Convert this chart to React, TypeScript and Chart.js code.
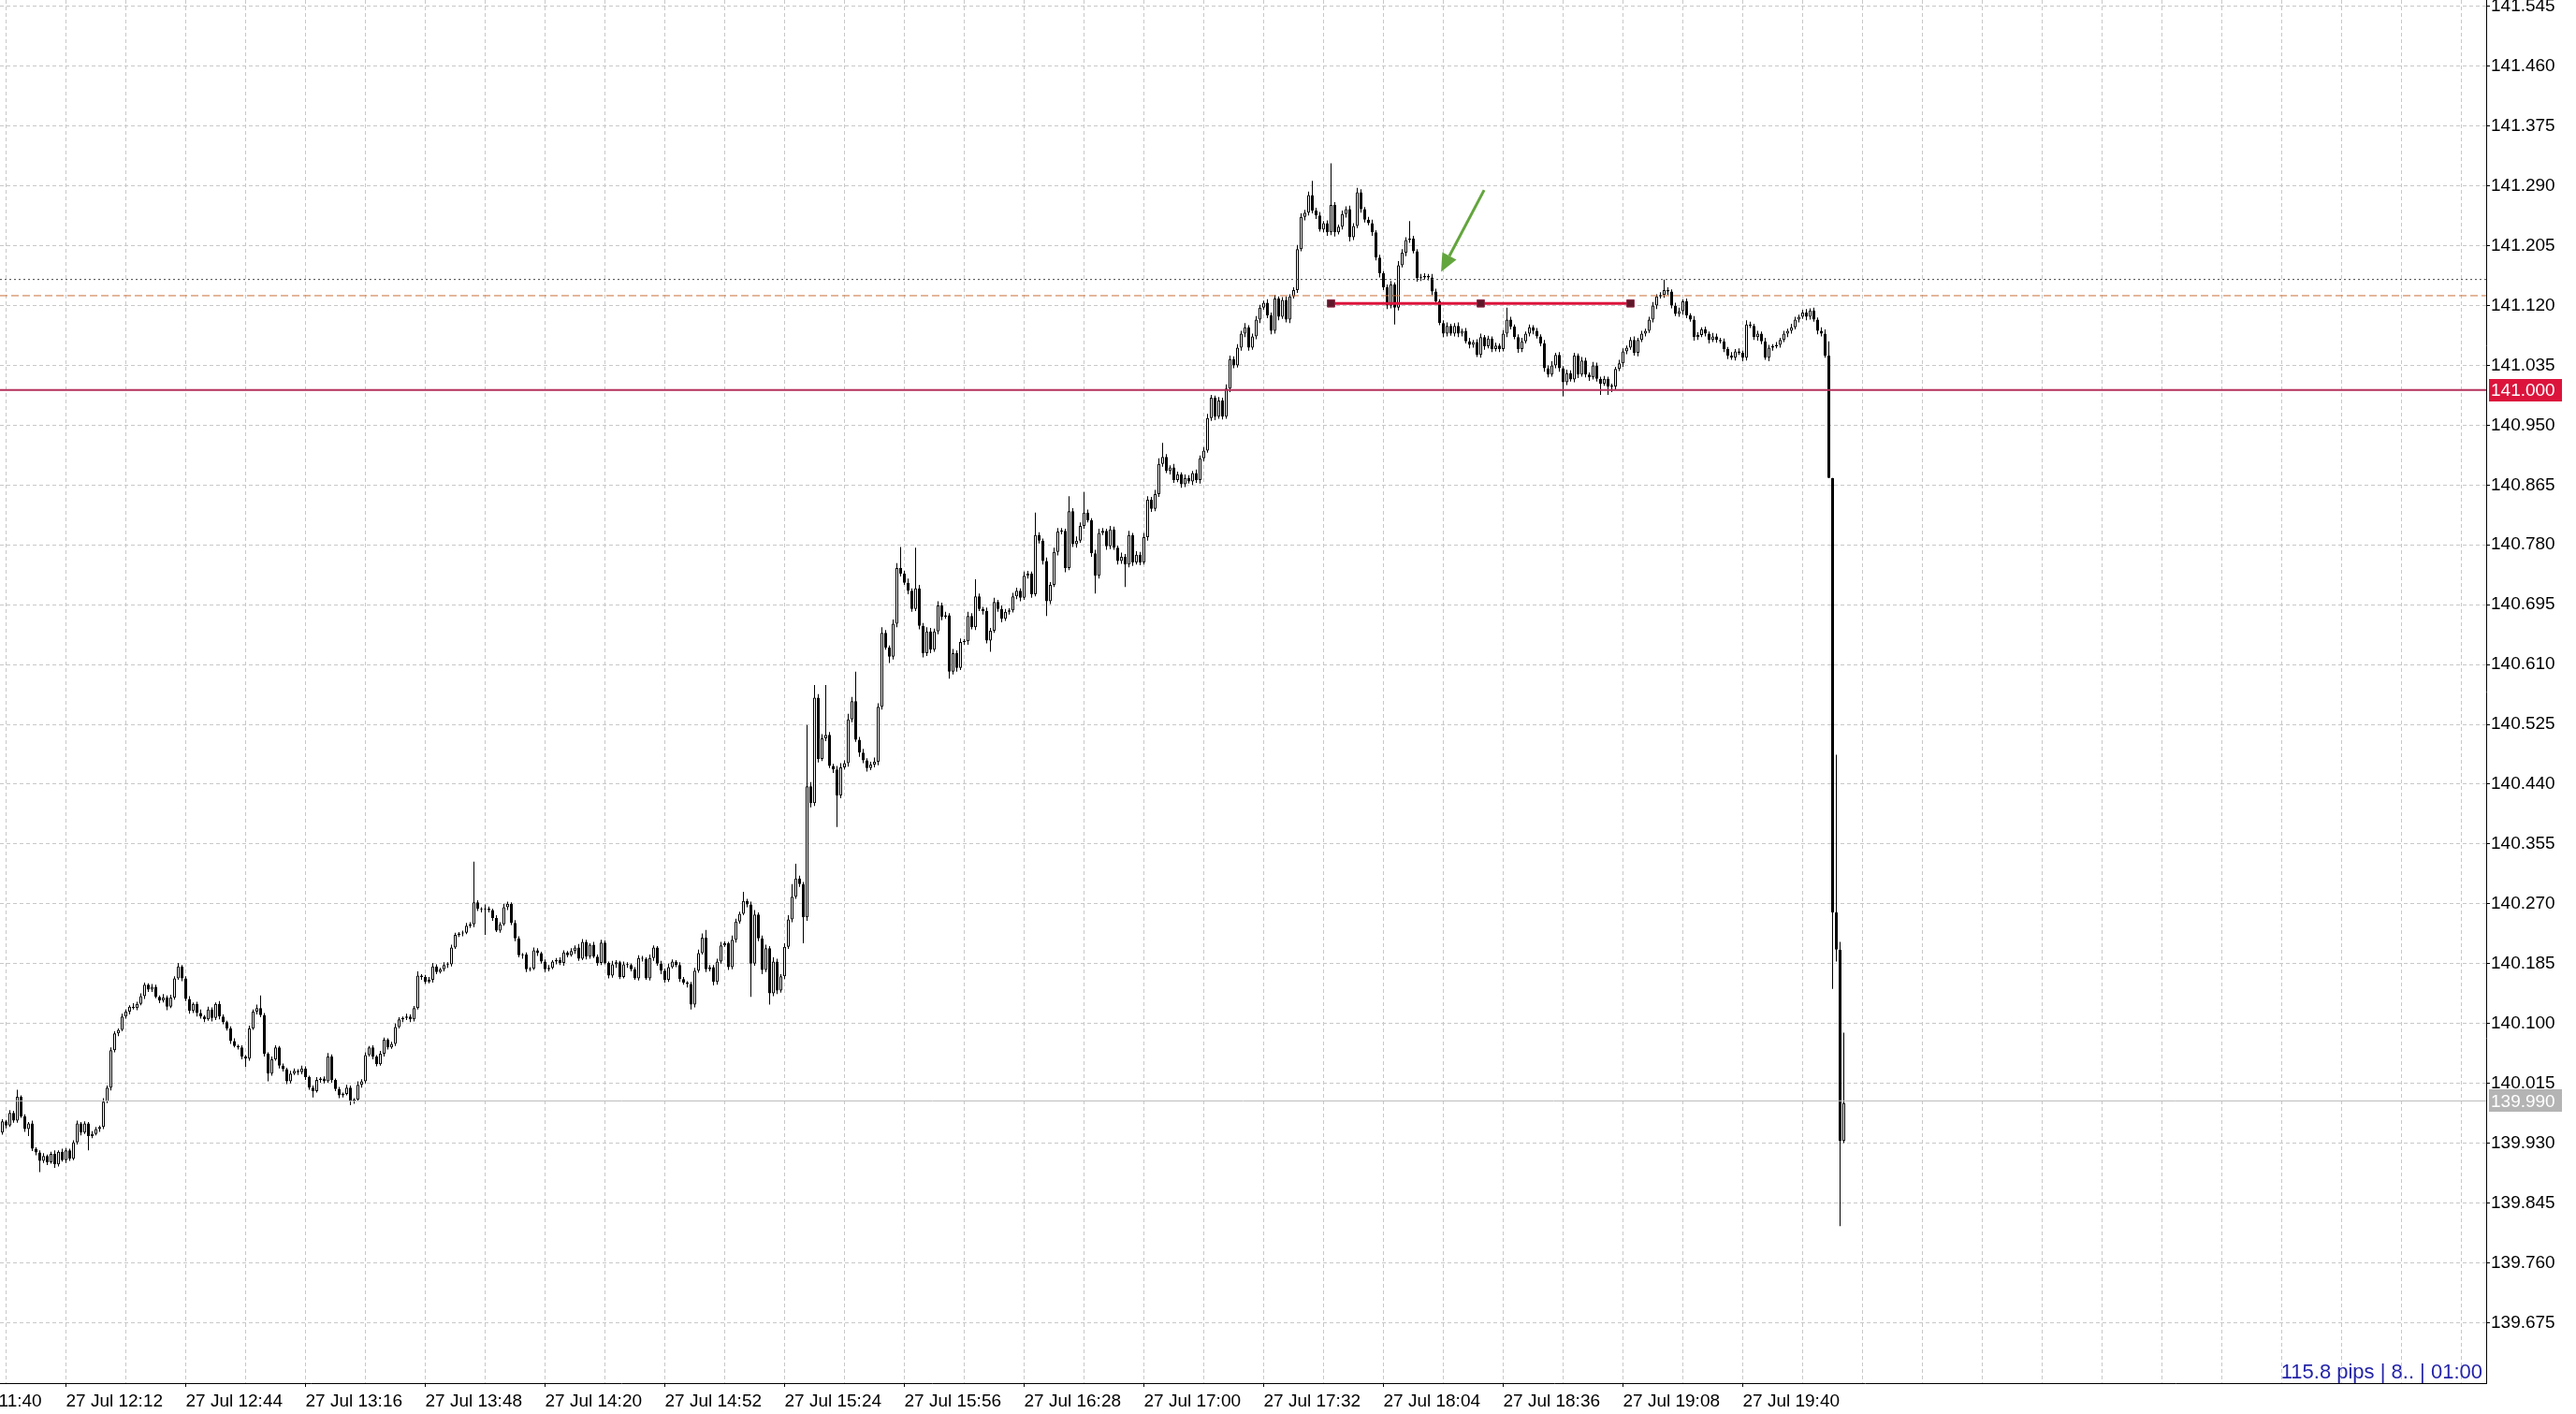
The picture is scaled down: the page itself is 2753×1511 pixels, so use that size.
import React, { useEffect, useRef } from 'react';
import { Chart, registerables } from 'chart.js';

Chart.register(...registerables);

const W = 2753;
const H = 1511;

// Prices are stored as points (thousandths) above PRICE_BASE
const PRICE_BASE = 139;
// minute (after 27 Jul 11:40) of the first visible 1-minute bar
const FIRST_MINUTE = 15;
const FIRST_OPEN_PTS = 945;

// close of every 1-minute bar, t = 15 ... 507
const closePts = [
  961, 955, 973, 962, 996, 968, 950, 958, 922, 917, // t15
  905, 912, 903, 915, 900, 918, 906, 920, 908, 931, // t25
  958, 945, 958, 940, 943, 950, 953, 989, 1009, 1062, // t35
  1086, 1091, 1110, 1117, 1124, 1122, 1128, 1139, 1155, 1148, // t45
  1152, 1138, 1133, 1137, 1124, 1137, 1164, 1181, 1164, 1135, // t55
  1118, 1128, 1115, 1110, 1106, 1120, 1108, 1128, 1110, 1102, // t65
  1093, 1075, 1068, 1066, 1053, 1050, 1093, 1117, 1122, 1112, // t75
  1057, 1029, 1049, 1066, 1040, 1035, 1018, 1029, 1033, 1031, // t85
  1036, 1024, 1009, 1004, 1020, 1022, 1018, 1053, 1020, 1007, // t95
  998, 1000, 1009, 989, 992, 1013, 1018, 1055, 1066, 1053, // t105
  1042, 1057, 1077, 1066, 1071, 1095, 1106, 1108, 1110, 1106, // t115
  1122, 1168, 1166, 1159, 1162, 1181, 1173, 1177, 1183, 1184, // t125
  1208, 1226, 1228, 1229, 1239, 1241, 1272, 1263, 1262, 1263, // t135
  1261, 1250, 1232, 1241, 1265, 1270, 1243, 1221, 1197, 1198, // t145
  1177, 1178, 1204, 1200, 1188, 1177, 1179, 1188, 1190, 1186, // t155
  1201, 1197, 1203, 1208, 1192, 1216, 1195, 1212, 1195, 1186, // t165
  1215, 1186, 1168, 1184, 1187, 1166, 1184, 1183, 1177, 1164, // t175
  1193, 1192, 1164, 1193, 1208, 1185, 1175, 1162, 1180, 1188, // t185
  1183, 1163, 1158, 1156, 1127, 1175, 1200, 1222, 1177, 1180, // t195
  1159, 1188, 1211, 1214, 1180, 1219, 1245, 1256, 1274, 1269, // t205
  1185, 1255, 1221, 1176, 1207, 1143, 1188, 1147, 1167, 1209, // t215
  1248, 1280, 1306, 1298, 1251, 1437, 1413, 1563, 1476, 1505, // t225
  1510, 1466, 1461, 1424, 1464, 1470, 1532, 1558, 1503, 1485, // t235
  1474, 1463, 1468, 1472, 1550, 1655, 1634, 1621, 1668, 1747, // t245
  1739, 1726, 1715, 1689, 1718, 1665, 1626, 1657, 1631, 1657, // t255
  1694, 1678, 1680, 1600, 1626, 1605, 1642, 1643, 1679, 1663, // t265
  1707, 1689, 1686, 1644, 1658, 1699, 1689, 1675, 1685, 1687, // t275
  1707, 1715, 1705, 1736, 1739, 1710, 1794, 1786, 1757, 1700, // t285
  1723, 1770, 1799, 1800, 1747, 1828, 1781, 1786, 1807, 1826, // t295
  1815, 1768, 1736, 1797, 1800, 1778, 1802, 1776, 1757, 1763, // t305
  1752, 1794, 1755, 1766, 1755, 1791, 1844, 1831, 1852, 1895, // t315
  1905, 1885, 1890, 1872, 1880, 1866, 1875, 1870, 1882, 1872, // t325
  1903, 1914, 1960, 1989, 1962, 1985, 1962, 2002, 2044, 2035, // t335
  2060, 2080, 2089, 2060, 2076, 2100, 2117, 2124, 2106, 2084, // t345
  2130, 2104, 2128, 2100, 2133, 2142, 2200, 2246, 2252, 2277, // t355
  2255, 2248, 2228, 2237, 2224, 2263, 2224, 2232, 2250, 2257, // t365
  2217, 2233, 2281, 2257, 2242, 2237, 2224, 2188, 2166, 2146, // t375
  2120, 2150, 2117, 2177, 2195, 2213, 2215, 2197, 2159, 2160, // t385
  2162, 2160, 2140, 2126, 2095, 2080, 2091, 2080, 2091, 2080, // t395
  2084, 2069, 2064, 2068, 2050, 2075, 2062, 2073, 2058, 2063, // t405
  2058, 2080, 2100, 2090, 2075, 2058, 2069, 2080, 2089, 2084, // t415
  2076, 2066, 2031, 2022, 2035, 2050, 2031, 2011, 2024, 2015, // t425
  2049, 2022, 2042, 2022, 2018, 2035, 2016, 2009, 2016, 2005, // t435
  2005, 2030, 2038, 2055, 2060, 2071, 2053, 2071, 2080, 2084, // t445
  2100, 2120, 2133, 2135, 2142, 2140, 2120, 2108, 2112, 2126, // t455
  2106, 2100, 2075, 2078, 2086, 2080, 2071, 2076, 2071, 2069, // t465
  2058, 2049, 2046, 2055, 2053, 2046, 2093, 2091, 2075, 2080, // t475
  2069, 2046, 2060, 2062, 2064, 2071, 2080, 2084, 2089, 2100, // t485
  2104, 2110, 2104, 2113, 2100, 2084, 2080, 2049, 1875, 1258, // t495
  1205, 933, 987, // t505
];

// wick above the body (points)
const upWickPts = [
  3, 2, 4, 3, 10, 2, 3, 2, 4, 2,
  3, 4, 2, 3, 5, 2, 4, 3, 2, 3,
  4, 2, 3, 2, 4, 3, 2, 5, 3, 4,
  3, 2, 4, 3, 2, 5, 3, 4, 3, 2,
  4, 3, 2, 5, 3, 4, 3, 5, 2, 3,
  4, 2, 3, 5, 2, 4, 3, 2, 4, 3,
  2, 3, 4, 2, 3, 2, 4, 3, 5, 18,
  3, 2, 4, 3, 2, 3, 2, 4, 3, 2,
  4, 3, 2, 3, 4, 2, 3, 5, 3, 2,
  3, 2, 4, 3, 2, 5, 3, 4, 2, 3,
  2, 4, 3, 2, 3, 5, 3, 2, 4, 3,
  3, 6, 2, 3, 4, 5, 3, 2, 4, 3,
  4, 3, 2, 3, 4, 3, 58, 3, 2, 6,
  3, 2, 4, 3, 5, 3, 2, 4, 3, 2,
  3, 2, 4, 3, 2, 3, 4, 2, 3, 4,
  3, 2, 4, 3, 5, 4, 3, 2, 4, 3,
  4, 3, 2, 5, 3, 2, 4, 3, 2, 3,
  4, 3, 2, 5, 3, 2, 4, 3, 5, 3,
  2, 4, 3, 2, 3, 4, 5, 6, 11, 3,
  3, 4, 5, 3, 2, 6, 4, 3, 13, 3,
  4, 6, 3, 4, 5, 3, 6, 4, 3, 5,
  6, 18, 21, 4, 3, 87, 6, 18, 5, 6,
  71, 4, 3, 5, 6, 4, 8, 6, 42, 4,
  5, 3, 4, 6, 5, 8, 4, 3, 6, 7,
  30, 4, 6, 3, 58, 5, 4, 6, 5, 4,
  6, 4, 5, 3, 6, 4, 5, 3, 6, 4,
  24, 4, 3, 5, 4, 6, 3, 5, 4, 3,
  5, 4, 3, 6, 4, 3, 32, 4, 3, 5,
  4, 6, 5, 4, 3, 21, 4, 6, 5, 29,
  4, 3, 5, 6, 4, 3, 5, 4, 3, 6,
  4, 6, 3, 5, 4, 6, 5, 4, 6, 8,
  20, 4, 3, 5, 4, 3, 5, 4, 3, 5,
  4, 5, 6, 4, 3, 5, 4, 6, 5, 4,
  5, 4, 6, 3, 4, 5, 4, 3, 5, 4,
  5, 3, 4, 5, 3, 4, 6, 5, 4, 5,
  20, 4, 5, 3, 4, 59, 4, 3, 5, 4,
  5, 4, 6, 4, 3, 4, 5, 3, 4, 3,
  4, 5, 3, 6, 5, 4, 25, 4, 3, 5,
  4, 3, 5, 4, 3, 4, 5, 3, 4, 5,
  3, 4, 5, 3, 4, 5, 3, 4, 3, 4,
  3, 5, 17, 4, 3, 4, 5, 3, 4, 3,
  4, 3, 5, 4, 6, 3, 4, 3, 5, 4,
  4, 3, 5, 4, 3, 5, 4, 3, 4, 3,
  4, 3, 5, 4, 3, 4, 5, 3, 4, 3,
  4, 5, 3, 4, 15, 4, 3, 4, 5, 3,
  4, 3, 5, 4, 3, 4, 3, 5, 4, 3,
  4, 3, 5, 3, 4, 3, 6, 4, 3, 4,
  3, 5, 4, 3, 4, 3, 4, 3, 5, 4,
  3, 4, 5, 3, 4, 3, 5, 6, 20, 0,
  224, 11, 100,
];

// wick below the body (points)
const downWickPts = [
  3, 4, 2, 3, 3, 2, 4, 10, 3, 4,
  16, 3, 4, 2, 5, 3, 2, 4, 3, 2,
  3, 4, 2, 20, 3, 2, 4, 3, 2, 4,
  3, 4, 2, 3, 4, 2, 3, 2, 4, 3,
  3, 2, 4, 3, 5, 2, 3, 2, 4, 3,
  4, 3, 5, 3, 4, 2, 5, 3, 4, 3,
  3, 4, 2, 3, 4, 12, 3, 2, 4, 3,
  4, 11, 3, 2, 4, 3, 4, 3, 2, 4,
  3, 4, 3, 9, 2, 4, 3, 2, 4, 3,
  4, 3, 2, 5, 3, 2, 4, 3, 2, 4,
  3, 2, 4, 3, 2, 3, 2, 4, 3, 4,
  3, 2, 4, 3, 2, 4, 3, 2, 3, 4,
  3, 2, 3, 4, 2, 3, 4, 3, 4, 36,
  3, 4, 2, 3, 2, 4, 3, 4, 3, 5,
  4, 3, 2, 4, 3, 4, 3, 2, 4, 3,
  4, 3, 2, 4, 3, 2, 4, 3, 2, 4,
  3, 2, 4, 3, 5, 3, 2, 4, 3, 2,
  3, 4, 2, 3, 4, 3, 5, 4, 3, 2,
  3, 4, 3, 5, 7, 4, 3, 2, 4, 3,
  5, 4, 3, 2, 4, 3, 4, 3, 2, 4,
  47, 3, 4, 6, 3, 16, 4, 5, 3, 4,
  3, 4, 3, 4, 37, 5, 6, 4, 5, 3,
  4, 3, 5, 45, 4, 3, 5, 4, 3, 6,
  4, 5, 3, 4, 5, 4, 3, 9, 4, 5,
  4, 3, 5, 4, 3, 5, 6, 4, 5, 3,
  4, 5, 3, 10, 4, 5, 3, 4, 5, 3,
  4, 3, 5, 4, 16, 3, 4, 5, 3, 4,
  3, 4, 5, 3, 4, 5, 3, 4, 5, 21,
  4, 3, 5, 4, 6, 3, 4, 5, 3, 4,
  3, 5, 25, 4, 3, 5, 4, 3, 5, 4,
  32, 4, 5, 3, 4, 3, 5, 4, 3, 4,
  4, 3, 5, 4, 3, 5, 4, 3, 5, 4,
  5, 4, 3, 4, 5, 3, 4, 3, 5, 4,
  3, 4, 5, 4, 3, 4, 5, 3, 4, 5,
  4, 5, 3, 4, 5, 3, 4, 3, 5, 4,
  4, 5, 3, 4, 5, 4, 6, 3, 4, 5,
  6, 4, 3, 5, 4, 3, 5, 4, 6, 4,
  5, 4, 24, 4, 3, 5, 4, 3, 5, 4,
  3, 4, 5, 4, 3, 5, 4, 3, 4, 5,
  4, 3, 5, 4, 3, 4, 5, 3, 4, 3,
  4, 3, 5, 4, 3, 5, 4, 3, 4, 5,
  3, 4, 5, 4, 3, 4, 5, 20, 4, 3,
  4, 5, 3, 4, 5, 3, 4, 16, 3, 12,
  8, 4, 3, 5, 4, 3, 4, 5, 3, 4,
  3, 4, 5, 3, 4, 5, 4, 3, 4, 5,
  4, 3, 5, 4, 3, 4, 5, 3, 4, 3,
  4, 5, 3, 4, 3, 5, 4, 3, 4, 5,
  4, 3, 5, 4, 3, 4, 3, 5, 4, 3,
  4, 3, 5, 4, 3, 5, 4, 3, 0, 109,
  17, 121, 3,
];

const priceTicks = [
  141.545, 141.46, 141.375, 141.29, 141.205, 141.12, 141.035, 140.95, 140.865, 140.78, 140.695, 140.61,
  140.525, 140.44, 140.355, 140.27, 140.185, 140.1, 140.015, 139.93, 139.845, 139.76, 139.675,
];

// minutes after 27 Jul 11:40
const timeTickMinutes = [0, 32, 64, 96, 128, 160, 192, 224, 256, 288, 320, 352, 384, 416, 448, 480];
const timeTickLabels = [
  '27 Jul 11:40', '27 Jul 12:12', '27 Jul 12:44', '27 Jul 13:16', '27 Jul 13:48', '27 Jul 14:20',
  '27 Jul 14:52', '27 Jul 15:24', '27 Jul 15:56', '27 Jul 16:28', '27 Jul 17:00', '27 Jul 17:32',
  '27 Jul 18:04', '27 Jul 18:36', '27 Jul 19:08', '27 Jul 19:40',
];

const levelPrice = 141.0;
const lastPrice = 139.99;
const dottedPrice = 141.157;
const dashedPrice = 141.134;
const trendMinutes = [370, 410, 450];
const trendPrices = [141.123, 141.123, 141.123];
const arrowFrom = [410.9, 141.284];
const arrowTo = [399.4, 141.168];
const infoText = '115.8 pips | 8.. | 01:00';

// scale geometry
const X_MIN = 14.375;
const X_MAX = 14.375 + 2657 / 4;
const Y_MAX = 141.545 + 6.8 / 752.2;
const Y_MIN = Y_MAX - 1478 / 752.2;
const FONT = '"Liberation Sans", Arial, sans-serif';
const AXIS_FONT_SIZE = 19;
const X_TICK_LEN = 4;
const X_TICK_PAD = 4;

export default function App() {
  const ref = useRef<HTMLCanvasElement | null>(null);

  useEffect(() => {
    if (!ref.current) return;
    Chart.defaults.font.family = FONT;

    const bars = closePts.map((c, i) => {
      const o = i === 0 ? FIRST_OPEN_PTS : closePts[i - 1];
      const hi = Math.max(o, c) + upWickPts[i];
      const lo = Math.min(o, c) - downWickPts[i];
      return {
        t: FIRST_MINUTE + i,
        o: PRICE_BASE + o / 1000,
        c: PRICE_BASE + c / 1000,
        h: PRICE_BASE + hi / 1000,
        l: PRICE_BASE + lo / 1000,
      };
    });

    const gridMinutes: number[] = [];
    for (let m = 16; m <= X_MAX; m += 16) gridMinutes.push(m);

    const hLine = (v: number, color: string, width: number, dash: number[]) => ({
      type: 'line' as const,
      data: [{ x: X_MIN, y: v }, { x: X_MAX, y: v }],
      borderColor: color,
      borderWidth: width,
      borderDash: dash,
      pointRadius: 0,
      order: -1,
    });

    const overlay = {
      id: 'overlay',
      afterDatasetsDraw(chart: any) {
        const { ctx, scales } = chart;
        const x = scales.x, y = scales.y;
        const x1 = x.getPixelForValue(arrowFrom[0]);
        const y1 = y.getPixelForValue(arrowFrom[1]);
        const x2 = x.getPixelForValue(arrowTo[0]);
        const y2 = y.getPixelForValue(arrowTo[1]);
        const ang = Math.atan2(y2 - y1, x2 - x1);
        const head = 19, hw = 8.5;
        const bx = x2 - head * Math.cos(ang);
        const by = y2 - head * Math.sin(ang);
        ctx.save();
        ctx.strokeStyle = '#63a53d';
        ctx.fillStyle = '#63a53d';
        ctx.lineWidth = 3;
        ctx.beginPath();
        ctx.moveTo(x1, y1);
        ctx.lineTo(bx, by);
        ctx.stroke();
        ctx.beginPath();
        ctx.moveTo(x2, y2);
        ctx.lineTo(bx + hw * Math.sin(ang), by - hw * Math.cos(ang));
        ctx.lineTo(bx - hw * Math.sin(ang), by + hw * Math.cos(ang));
        ctx.closePath();
        ctx.fill();
        ctx.restore();
      },
      afterDraw(chart: any) {
        const { ctx, scales, chartArea } = chart;
        const x = scales.x, y = scales.y;
        ctx.save();
        ctx.font = AXIS_FONT_SIZE + 'px ' + FONT;
        // price boxes on the axis
        const box = (v: number, bg: string, fg: string) => {
          const py = y.getPixelForValue(v);
          ctx.fillStyle = bg;
          ctx.fillRect(chartArea.right + 3, Math.round(py) - 12, 78, 24);
          ctx.fillStyle = fg;
          ctx.textAlign = 'left';
          ctx.textBaseline = 'middle';
          ctx.fillText(v.toFixed(3), chartArea.right + 5, py + 1);
        };
        box(levelPrice, '#dc143c', '#ffffff');
        box(lastPrice, '#b4b4b4', '#ffffff');
        // first time label, cut at the left edge
        ctx.fillStyle = '#000';
        ctx.textAlign = 'left';
        ctx.textBaseline = 'middle';
        ctx.fillText(
          timeTickLabels[0],
          x.getPixelForValue(timeTickMinutes[0]),
          chartArea.bottom + X_TICK_LEN + X_TICK_PAD + AXIS_FONT_SIZE * 0.6,
        );
        // info text
        ctx.font = '22px ' + FONT;
        ctx.fillStyle = '#2424a8';
        ctx.textAlign = 'right';
        ctx.fillText(infoText, chartArea.right - 4, chartArea.bottom - 11);
        ctx.restore();
      },
    };

    const chart = new Chart(ref.current, {
      type: 'bar',
      data: {
        datasets: [
          {
            type: 'bar',
            data: bars.map((b) => ({ x: b.t, y: [b.o, b.c] })) as any,
            backgroundColor: bars.map((b) => (b.c > b.o ? '#ffffff' : '#000000')),
            borderColor: '#000000',
            borderWidth: 1,
            borderSkipped: false,
            barThickness: 3,
            minBarLength: 1,
            inflateAmount: 0,
            grouped: false,
            order: 0,
          } as any,
          {
            type: 'bar',
            data: bars.map((b) => ({ x: b.t, y: [b.l, b.h] })) as any,
            backgroundColor: '#000000',
            borderWidth: 0,
            barThickness: 1,
            inflateAmount: 0,
            grouped: false,
            order: 1,
          } as any,
          hLine(levelPrice, '#b3305a', 2, []) as any,
          hLine(dottedPrice, '#444444', 1, [2, 3]) as any,
          hLine(dashedPrice, '#c8703a', 1, [8, 4]) as any,
          hLine(lastPrice, '#bdbdbd', 1, []) as any,
          {
            type: 'line',
            data: trendMinutes.map((m, i) => ({ x: m, y: trendPrices[i] })),
            borderColor: '#dc143c',
            borderWidth: 3,
            pointStyle: 'rect',
            pointRadius: 5.5,
            pointBackgroundColor: '#5e1729',
            pointBorderColor: '#8c2443',
            pointBorderWidth: 1,
            order: -2,
          } as any,
        ],
      },
      options: {
        responsive: false,
        animation: false,
        devicePixelRatio: 1,
        events: [],
        layout: { padding: 0, autoPadding: false },
        plugins: { legend: { display: false }, tooltip: { enabled: false }, title: { display: false } },
        scales: {
          x: {
            type: 'linear',
            position: 'bottom',
            min: X_MIN,
            max: X_MAX,
            bounds: 'data',
            offset: false,
            afterBuildTicks: (s: any) => {
              s.ticks = gridMinutes.map((v) => ({ value: v }));
            },
            afterFit: (s: any) => {
              s.height = 33;
              s.paddingLeft = 0; s.paddingRight = 0; s.paddingTop = 0; s.paddingBottom = 0;
            },
            ticks: {
              autoSkip: false,
              maxRotation: 0,
              minRotation: 0,
              align: 'start',
              padding: X_TICK_PAD,
              color: '#000',
              font: { size: AXIS_FONT_SIZE, family: FONT },
              callback: (v: any) => {
                const k = timeTickMinutes.indexOf(Number(v));
                return k >= 0 ? timeTickLabels[k] : '';
              },
            },
            grid: {
              offset: false,
              color: '#c8c8c8',
              lineWidth: 1,
              drawTicks: true,
              tickLength: X_TICK_LEN,
              tickColor: (c: any) => (c.tick && c.tick.label ? '#000' : 'rgba(0,0,0,0)'),
              tickBorderDash: [],
            },
            border: { display: true, color: '#000', width: 1, dash: [4, 3] },
          } as any,
          y: {
            type: 'linear',
            position: 'right',
            min: Y_MIN,
            max: Y_MAX,
            bounds: 'data',
            beginAtZero: false,
            afterBuildTicks: (s: any) => {
              s.ticks = priceTicks.map((v) => ({ value: v }));
            },
            afterFit: (s: any) => {
              s.width = 96;
              s.paddingLeft = 0; s.paddingRight = 0; s.paddingTop = 0; s.paddingBottom = 0;
            },
            ticks: {
              autoSkip: false,
              padding: 1,
              color: '#000',
              font: { size: AXIS_FONT_SIZE, family: FONT },
              callback: (v: any) => Number(v).toFixed(3),
            },
            grid: {
              color: '#c8c8c8',
              lineWidth: 1,
              drawTicks: true,
              tickLength: 4,
              tickColor: '#000',
              tickBorderDash: [],
            },
            border: { display: true, color: '#000', width: 1, dash: [4, 3] },
          } as any,
        },
      },
      plugins: [overlay],
    } as any);

    return () => chart.destroy();
  }, []);

  return (
    <div style={{ position: 'absolute', left: 0, top: 0, width: W, height: H, background: '#fff', overflow: 'hidden' }}>
      <canvas ref={ref} width={W} height={H} style={{ display: 'block', width: W, height: H }} />
    </div>
  );
}
